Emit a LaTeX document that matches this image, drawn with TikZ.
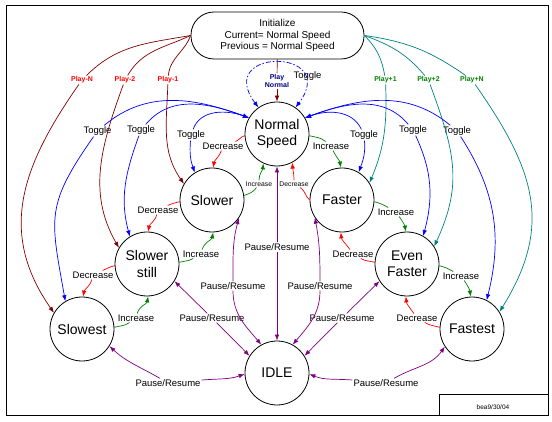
\documentclass[tikz,border=0pt]{standalone}
\usepackage{fontspec}
\setmainfont{Liberation Sans}
\usepackage{xcolor}
\usepackage{tikz}
\usetikzlibrary{arrows.meta}
\definecolor{maroon}{RGB}{128,0,0}
\definecolor{tealc}{RGB}{0,128,128}
\definecolor{dkgreen}{RGB}{0,128,0}
\definecolor{violetc}{RGB}{128,0,128}
\definecolor{navyc}{RGB}{0,0,128}
\begin{document}
\begin{tikzpicture}[x=1pt,y=-1pt,>={Latex[length=6pt,width=4.5pt]},
state/.style={circle,draw,line width=0.8pt,minimum size=64pt,inner sep=0pt,align=center,font=\fontsize{14}{16.5}\selectfont},
lbl/.style={inner sep=1pt,font=\fontsize{9.5}{11}\selectfont},
tinylbl/.style={inner sep=1pt,font=\fontsize{6.8}{8}\selectfont},
playlbl/.style={inner sep=1pt,align=center,font=\bfseries\fontsize{7}{8}\selectfont},
tgl/.style={blue,line width=0.7pt},
decr/.style={red,line width=0.7pt},
incr/.style={dkgreen,line width=0.7pt},
pausearc/.style={violetc,line width=0.7pt},
playdn/.style={maroon,line width=0.7pt},
playup/.style={tealc,line width=0.7pt}]
\useasboundingbox (0,0) rectangle (552,422);
\draw[line width=0.8pt] (6,5) rectangle (548,415.5);
\draw[line width=0.8pt] (439,394) rectangle (548,415.5);
\node[font=\fontsize{6.5}{7}\selectfont] (stamp) at (493,407) {bea9/30/04};
\node[draw,line width=0.8pt,rounded corners=23pt,minimum width=173pt,minimum height=47pt,align=center,font=\fontsize{10}{11.5}\selectfont] (Init) at (277.5,35.5) {Initialize\\Current= Normal Speed\\Previous = Normal Speed};
\node[state] (NS) at (277,134) {Normal\\Speed};
\node[state] (SL) at (212,200) {Slower};
\node[state] (FA) at (342,200) {Faster};
\node[state] (SS) at (147,264) {Slower\\still};
\node[state] (EF) at (407,264) {Even\\Faster};
\node[state] (SW) at (82,329) {Slowest};
\node[state] (FT) at (472,329) {Fastest};
\node[state] (ID) at (277,373) {IDLE};
\node[playlbl,navyc] (PNl) at (277,81) {Play\\Normal};
\node[lbl] (Tl) at (307.5,76) {Toggle};
\node[playlbl,red] (M1) at (168,80) {Play-1};
\node[playlbl,red] (M2) at (125,80) {Play-2};
\node[playlbl,red] (MN) at (82,80) {Play-N};
\node[playlbl,dkgreen] (P1) at (385.5,80) {Play+1};
\node[playlbl,dkgreen] (P2) at (428.5,80) {Play+2};
\node[playlbl,dkgreen] (PN) at (472,80) {Play+N};
\node[lbl] (T1) at (97.5,131) {Toggle};
\node[lbl] (T2) at (141,130) {Toggle};
\node[lbl] (T3) at (191,135) {Toggle};
\node[lbl] (T4) at (364,135) {Toggle};
\node[lbl] (T5) at (413,130) {Toggle};
\node[lbl] (T6) at (457,131) {Toggle};
\node[lbl] (D1) at (223,146) {Decrease};
\node[tinylbl] (I1) at (259,184) {Increase};
\node[lbl] (I2) at (331,146) {Increase};
\node[tinylbl] (D2) at (294,184) {Decrease};
\node[lbl] (D3) at (158,210) {Decrease};
\node[lbl] (I3) at (201,254) {Increase};
\node[lbl] (D4) at (93,275) {Decrease};
\node[lbl] (I4) at (136,318) {Increase};
\node[lbl] (I5) at (396,212) {Increase};
\node[lbl] (D5) at (353,254) {Decrease};
\node[lbl] (I6) at (461,276) {Increase};
\node[lbl] (D6) at (417,318) {Decrease};
\node[lbl] (R0) at (277,247) {Pause/Resume};
\node[lbl] (R1) at (233,286) {Pause/Resume};
\node[lbl] (R2) at (320,286) {Pause/Resume};
\node[lbl] (R3) at (212,318) {Pause/Resume};
\node[lbl] (R4) at (342,318) {Pause/Resume};
\node[lbl] (R5) at (168,383) {Pause/Resume};
\node[lbl] (R6) at (386,383) {Pause/Resume};
\draw[playdn] (Init) -- (PNl);
\draw[playdn,->] (PNl) -- (NS);
\draw[tgl,dash pattern=on 5pt off 2pt on 1.5pt off 2pt,<->] (NS.125) .. controls +(-45,-60) and +(45,-60) .. (NS.55);
\draw[playdn] (Init.west) to[out=250,in=85] (M1);
\draw[playdn,->] (M1) to[out=-92,in=125] (SL.150);
\draw[playdn] (Init.west) to[out=205,in=60] (M2);
\draw[playdn,->] (M2) to[out=-110,in=120] (SS.150);
\draw[playdn] (Init.west) to[out=190,in=45] (MN);
\draw[playdn,->] (MN) to[out=-125,in=125,looseness=1.1] (SW.150);
\draw[playup] (Init.east) to[out=-45,in=100] (P1);
\draw[playup,->] (P1) to[out=-88,in=67] (FA.32);
\draw[playup] (Init.east) to[out=-20,in=130] (P2);
\draw[playup,->] (P2) to[out=-70,in=65,looseness=1.1] (EF.33);
\draw[playup] (Init.east) to[out=-8,in=145] (PN);
\draw[playup,->] (PN) to[out=-55,in=58,looseness=1.15] (FT.32);
\draw[tgl,->] (T1) to[out=40,in=160] (NS.150);
\draw[tgl,->] (T2) to[out=50,in=160] (NS.150);
\draw[tgl,->] (T3) to[out=70,in=160] (NS.150);
\draw[tgl,->] (T4) to[out=115,in=20] (NS.30);
\draw[tgl,->] (T5) to[out=130,in=20] (NS.30);
\draw[tgl,->] (T6) to[out=140,in=20] (NS.30);
\draw[tgl,->] (T1) to[out=235,in=100,looseness=1.3] (SW.121);
\draw[tgl,->] (T2) to[out=250,in=105] (SS.122);
\draw[tgl,->] (T3) to[out=265,in=110] (SL.122);
\draw[tgl,->] (T4) to[out=275,in=70] (FA.59);
\draw[tgl,->] (T5) to[out=295,in=75] (EF.60);
\draw[tgl,->] (T6) to[out=-57,in=76] (FT.63);
\draw[decr] (NS.183) to[out=195,in=20] (D1);
\draw[decr,->] (D1) to[out=-110,in=80] (SL.88);
\draw[incr] (SL.8) to[out=20,in=235] (I1);
\draw[incr,->] (I1) to[out=90,in=265] (NS.245);
\draw[incr] (NS.357) to[out=-15,in=140] (I2);
\draw[incr,->] (I2) to[out=-65,in=100] (FA.92);
\draw[decr] (FA.180) to[out=140,in=-30] (D2);
\draw[decr,->] (D2) to[out=90,in=275] (NS.298);
\draw[decr] (SL.183) to[out=195,in=25] (D3);
\draw[decr,->] (D3) to[out=-105,in=80] (SS.88);
\draw[incr] (SS.3) to[out=15,in=210] (I3);
\draw[incr,->] (I3) to[out=75,in=260] (SL.272);
\draw[decr] (SS.183) to[out=195,in=25] (D4);
\draw[decr,->] (D4) to[out=-105,in=80] (SW.88);
\draw[incr] (SW.3) to[out=15,in=215] (I4);
\draw[incr,->] (I4) to[out=75,in=260] (SS.272);
\draw[incr] (FA.-3) to[out=-15,in=150] (I5);
\draw[incr,->] (I5) to[out=-55,in=100] (EF.92);
\draw[decr] (EF.177) to[out=165,in=-30] (D5);
\draw[decr,->] (D5) to[out=125,in=-85] (FA.268);
\draw[incr] (EF.-3) to[out=-15,in=150] (I6);
\draw[incr,->] (I6) to[out=-55,in=100] (FT.92);
\draw[decr] (FT.177) to[out=165,in=-30] (D6);
\draw[decr,->] (D6) to[out=125,in=-85] (EF.268);
\draw[pausearc,->] (R0) -- (NS);
\draw[pausearc,->] (R0) -- (ID);
\draw[pausearc,->] (R1) to[out=90,in=255] (SL.326);
\draw[pausearc,->] (R1) to[out=-90,in=130] (ID.119);
\draw[pausearc,->] (R2) to[out=90,in=-79] (FA.213);
\draw[pausearc,->] (R2) to[out=-90,in=50] (ID.61);
\draw[pausearc,->] (R3) -- (SS.328);
\draw[pausearc,->] (R3) -- (ID.148);
\draw[pausearc,->] (R4) -- (EF.212);
\draw[pausearc,->] (R4) -- (ID.32);
\draw[pausearc,->] (R5) to[out=150,in=-43] (SW.328);
\draw[pausearc,->] (R5) to[out=5,in=199] (ID.182);
\draw[pausearc,->] (R6) to[out=30,in=235] (FT.213);
\draw[pausearc,->] (R6) to[out=175,in=-22] (ID.358);
\end{tikzpicture}
\end{document}
